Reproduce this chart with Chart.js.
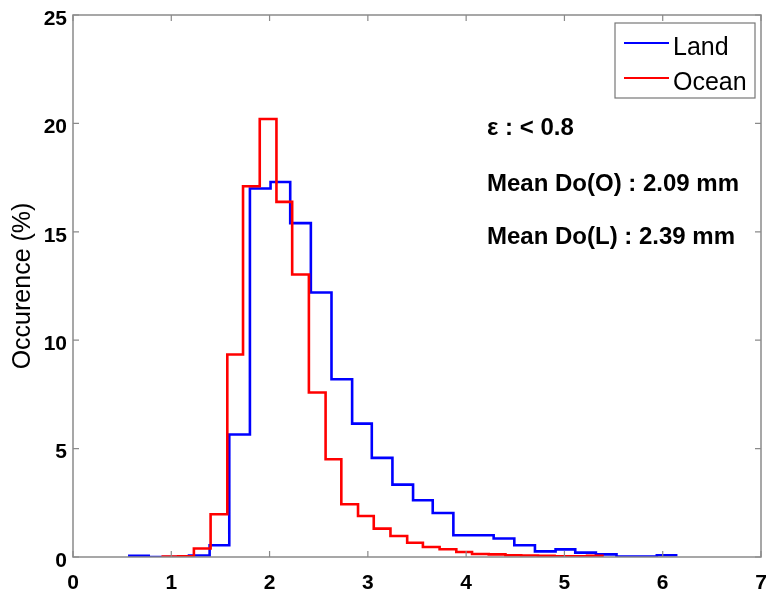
<!DOCTYPE html>
<html>
<head>
<meta charset="utf-8">
<script src="https://cdn.jsdelivr.net/npm/chart.js@4/dist/chart.umd.min.js"></script>
<style>
  html, body { margin: 0; padding: 0; background: #fff; }
  canvas { display: block; }
</style>
</head>
<body>
<canvas id="dsdChart" width="768" height="593"></canvas>
<script>
// bin edges (mm) and occurrence (%)
const landEdges = [0.56, 0.77, 0.97, 1.18, 1.39, 1.59, 1.80, 2.01, 2.21, 2.42, 2.63, 2.84, 3.04, 3.25,
  3.46, 3.66, 3.87, 4.08, 4.28, 4.49, 4.70, 4.91, 5.11, 5.32, 5.53, 5.73, 5.94, 6.15]
const landValues = [0.05, 0, 0, 0.07, 0.54, 5.65, 17.0, 17.3, 15.4, 12.2, 8.2, 6.15, 4.57, 3.34,
  2.62, 2.03, 1.0, 1.0, 0.85, 0.54, 0.26, 0.35, 0.2, 0.12, 0.02, 0.02, 0.08]

const oceanEdges = [0.90, 1.07, 1.23, 1.40, 1.57, 1.73, 1.90, 2.07, 2.23, 2.40, 2.57, 2.73, 2.90, 3.06,
  3.23, 3.40, 3.56, 3.73, 3.90, 4.06, 4.23, 4.40, 4.56, 4.73, 4.90, 5.06, 5.23, 5.40]
const oceanValues = [0.02, 0.03, 0.39, 1.97, 9.34, 17.1, 20.2, 16.38, 13.03, 7.59, 4.51, 2.43, 1.89, 1.31,
  0.97, 0.66, 0.46, 0.36, 0.23, 0.14, 0.12, 0.08, 0.07, 0.06, 0.03, 0.03, 0.05]

const seriesNames = ['Land', 'Ocean']
const seriesColors = ['#0000ff', '#ff0000']
const notes = ['\u03b5 : < 0.8', 'Mean Do(O) : 2.09 mm', 'Mean Do(L) : 2.39 mm']

const FONT = '"Liberation Sans", Arial, Helvetica, sans-serif'
const AXIS_GREY = '#8a8a8a'

// stairs: each value holds from its edge to the next one
const toStairs = (edges, values) => {
  const pts = values.map((v, i) => ({ x: edges[i], y: v }))
  pts.push({ x: edges[edges.length - 1], y: values[values.length - 1] })
  return pts
}

// matlab style box with inward ticks on all four sides
const boxFrame = {
  id: 'boxFrame',
  afterDraw (chart) {
    const { ctx, chartArea: a, scales } = chart
    ctx.save()
    ctx.strokeStyle = AXIS_GREY
    ctx.lineWidth = 1.5
    ctx.strokeRect(a.left, a.top, a.right - a.left, a.bottom - a.top)
    ctx.lineWidth = 1.2
    const len = 6
    ctx.beginPath()
    scales.x.ticks.forEach(t => {
      const px = scales.x.getPixelForValue(t.value)
      ctx.moveTo(px, a.bottom); ctx.lineTo(px, a.bottom - len)
      ctx.moveTo(px, a.top); ctx.lineTo(px, a.top + len)
    })
    scales.y.ticks.forEach(t => {
      const py = scales.y.getPixelForValue(t.value)
      ctx.moveTo(a.left, py); ctx.lineTo(a.left + len, py)
      ctx.moveTo(a.right, py); ctx.lineTo(a.right - len, py)
    })
    ctx.stroke()
    ctx.restore()
  }
}

// legend box in the upper right corner + text notes
const boxLegend = {
  id: 'boxLegend',
  afterDraw (chart) {
    const { ctx } = chart
    ctx.save()
    const bx = 615, by = 23, bw = 140, bh = 75
    ctx.fillStyle = '#fff'
    ctx.fillRect(bx, by, bw, bh)
    ctx.strokeStyle = '#777'
    ctx.lineWidth = 1.2
    ctx.strokeRect(bx, by, bw, bh)
    const rows = [43, 78]
    seriesNames.forEach((name, i) => {
      ctx.strokeStyle = seriesColors[i]
      ctx.lineWidth = 1.8
      ctx.beginPath()
      ctx.moveTo(624, rows[i]); ctx.lineTo(669, rows[i])
      ctx.stroke()
      ctx.fillStyle = '#000'
      ctx.font = '25px ' + FONT
      ctx.textBaseline = 'alphabetic'
      ctx.fillText(name, 673, rows[i] + 12)
    })
    ctx.font = 'bold 24px ' + FONT
    const baselines = [135, 191, 244]
    notes.forEach((txt, i) => ctx.fillText(txt, 487, baselines[i]))
    ctx.restore()
  }
}

new Chart('dsdChart', {
  type: 'line',
  data: {
    datasets: [{
      label: seriesNames[0],
      data: toStairs(landEdges, landValues),
      borderColor: seriesColors[0],
      order: 1
    }, {
      label: seriesNames[1],
      data: toStairs(oceanEdges, oceanValues),
      borderColor: seriesColors[1],
      order: 0
    }]
  },
  options: {
    responsive: false,
    animation: false,
    devicePixelRatio: 1,
    layout: { padding: { top: 15, right: 7, left: 0, bottom: 0 } },
    elements: {
      line: { stepped: true, borderWidth: 2.6, tension: 0, fill: false },
      point: { radius: 0 }
    },
    plugins: {
      legend: { display: false },
      tooltip: { enabled: false }
    },
    scales: {
      x: {
        type: 'linear',
        min: 0,
        max: 7,
        grid: { display: false, drawTicks: false },
        border: { display: false },
        ticks: {
          stepSize: 1,
          padding: 14,
          color: '#000',
          font: { family: FONT, size: 21, weight: 'bold' }
        },
        afterFit: scale => {
          scale.height = 36
          scale.paddingLeft = 0
          scale.paddingRight = 0
        }
      },
      y: {
        min: 0,
        max: 25,
        grid: { display: false, drawTicks: false },
        border: { display: false },
        ticks: {
          stepSize: 5,
          padding: 6,
          labelOffset: 4,
          color: '#000',
          font: { family: FONT, size: 21, weight: 'bold' }
        },
        title: {
          display: true,
          text: 'Occurence (%)',
          color: '#000',
          padding: { top: 8, bottom: 0 },
          font: { family: FONT, size: 25 }
        },
        afterFit: scale => {
          scale.width = 73
          scale.paddingTop = 0
          scale.paddingBottom = 0
        }
      }
    }
  },
  plugins: [boxFrame, boxLegend]
})
</script>
</body>
</html>
